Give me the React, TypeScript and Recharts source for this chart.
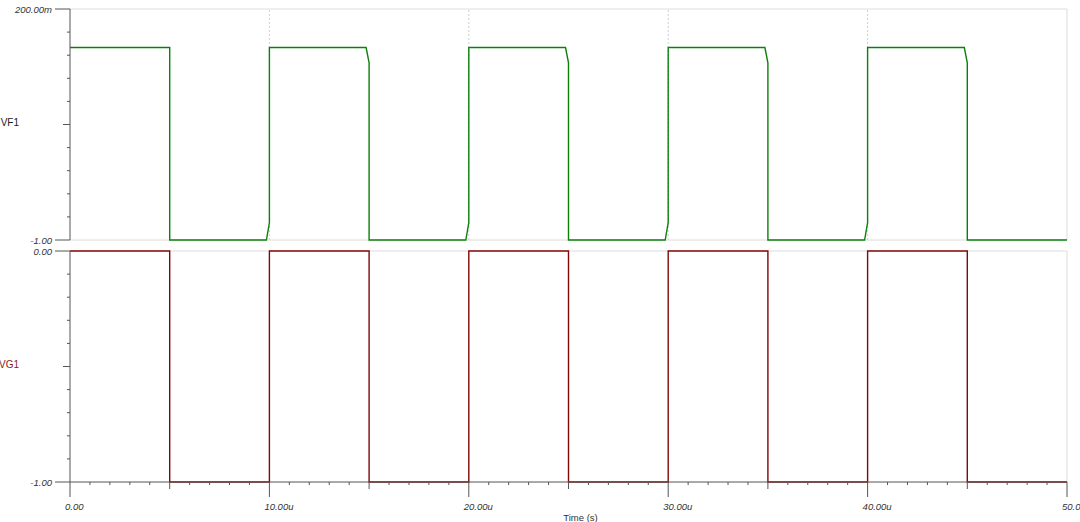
import React from "react";
import {
  LineChart,
  Line,
  XAxis,
  YAxis,
  ReferenceLine,
} from "recharts";

// VF1 (top panel): time in µs, value in V
const VF_TIME = [
  0, 5, 5, 9.85, 10, 10, 14.85, 15, 15, 19.85, 20, 20, 24.85, 25, 25, 29.85,
  30, 30, 34.85, 35, 35, 39.85, 40, 40, 44.85, 45, 45, 50,
];
const VF_VALUE = [
  0, 0, -1, -1, -0.91, 0, 0, -0.08, -1, -1, -0.91, 0, 0, -0.08, -1, -1,
  -0.91, 0, 0, -0.08, -1, -1, -0.91, 0, 0, -0.08, -1, -1,
];

// VG1 (bottom panel)
const VG_TIME = [
  0, 5, 5, 10, 10, 15, 15, 20, 20, 25, 25, 30, 30, 35, 35, 40, 40, 45, 45, 50,
];
const VG_VALUE = [
  0, 0, -1, -1, 0, 0, -1, -1, 0, 0, -1, -1, 0, 0, -1, -1, 0, 0, -1, -1,
];

const VF_TICKS = [-1, -0.88, -0.76, -0.64, -0.52, -0.4, -0.28, -0.16, -0.04, 0.08, 0.2];
const VF_TICK_LABELS = ["-1.00", "", "", "", "", "", "", "", "", "", "200.00m"];
const VG_TICKS = [-1, -0.9, -0.8, -0.7, -0.6, -0.5, -0.4, -0.3, -0.2, -0.1, 0];
const VG_TICK_LABELS = ["-1.00", "", "", "", "", "", "", "", "", "", "0.00"];

const X_MAJOR = [0, 10, 20, 30, 40, 50];
const X_LABELS = ["0.00", "10.00u", "20.00u", "30.00u", "40.00u", "50.00u"];
const X_TICKS = Array.from({ length: 51 }, (_, i) => i);
const GRID_X = [10, 20, 30, 40];

const vfData = VF_TIME.map((t, i) => ({ t, v: VF_VALUE[i] }));
const vgData = VG_TIME.map((t, i) => ({ t, v: VG_VALUE[i] }));

const FONT = "'Liberation Sans', Arial, sans-serif";
const AXIS = "#555";
const BORDER = "#dcdcdc";
const GREEN = "#0b800b";
const RED = "#820808";

function makeYTick(ticks: number[], labels: string[], name: string, nameColor: string) {
  return (props: any) => {
    const { x, y, payload } = props;
    const idx = ticks.findIndex((v) => Math.abs(v - payload.value) < 1e-6);
    const label = labels[idx] || "";
    const mid = idx === 5;
    const len = label ? 15 : mid ? 7 : 3;
    return (
      <g>
        <line x1={x - len} y1={y} x2={x} y2={y} stroke={AXIS} strokeWidth={1} />
        {label && (
          <text
            x={x - 18}
            y={y}
            textAnchor="end"
            dominantBaseline="central"
            fontSize={9.5}
            fontStyle="italic"
            fontFamily={FONT}
            fill="#333"
          >
            {label}
          </text>
        )}
        {mid && (
          <text
            x={x - 51}
            y={y - 2}
            textAnchor="end"
            dominantBaseline="central"
            fontSize={10}
            fontFamily={FONT}
            fill={nameColor}
          >
            {name}
          </text>
        )}
      </g>
    );
  };
}

function XTick(props: any) {
  const { x, y, payload } = props;
  const v = payload.value;
  const m = X_MAJOR.indexOf(v);
  const len = m >= 0 ? 15 : v % 5 === 0 ? 7 : 3;
  return (
    <g>
      <line x1={x} y1={y} x2={x} y2={y + len} stroke={AXIS} strokeWidth={1} />
      {m >= 0 && (
        <text
          x={x - 5}
          y={y + 24}
          textAnchor="start"
          dominantBaseline="central"
          fontSize={9.5}
          fontStyle="italic"
          fontFamily={FONT}
          fill="#333"
        >
          {X_LABELS[m]}
        </text>
      )}
    </g>
  );
}

const VFTick = makeYTick(VF_TICKS, VF_TICK_LABELS, "VF1", "#222");
const VGTick = makeYTick(VG_TICKS, VG_TICK_LABELS, "VG1", "#8b1a1a");

export default function App() {
  return (
    <div style={{ width: 1080, height: 522, background: "#fff", overflow: "hidden" }}>
      <style>{`body{margin:0}`}</style>
      <LineChart
        width={1080}
        height={245}
        data={vfData}
        margin={{ top: 9, right: 13, bottom: 5, left: 0 }}
        style={{ display: "block" }}
      >
        <XAxis dataKey="t" type="number" domain={[0, 50]} ticks={X_MAJOR} hide />
        <YAxis
          type="number"
          domain={[-1, 0.2]}
          ticks={VF_TICKS}
          width={70}
          tickSize={0}
          tickMargin={0}
          tickLine={false}
          axisLine={{ stroke: AXIS }}
          tick={VFTick}
          interval={0}
        />
        <ReferenceLine y={0.2} stroke={BORDER} />
        <ReferenceLine y={-1} stroke={BORDER} />
        <ReferenceLine x={50} stroke={BORDER} />
        {GRID_X.map((g) => (
          <ReferenceLine key={g} x={g} stroke="#cfcfcf" strokeDasharray="2 2" />
        ))}
        <Line
          type="linear"
          dataKey="v"
          stroke={GREEN}
          strokeWidth={1.4}
          dot={false}
          isAnimationActive={false}
        />
      </LineChart>
      <LineChart
        width={1080}
        height={277}
        data={vgData}
        margin={{ top: 6, right: 13, bottom: 0, left: 0 }}
        style={{ display: "block" }}
      >
        <XAxis
          dataKey="t"
          type="number"
          domain={[0, 50]}
          ticks={X_TICKS}
          interval={0}
          height={40}
          tickSize={0}
          tickMargin={0}
          tickLine={false}
          axisLine={{ stroke: AXIS }}
          tick={XTick}
          label={{
            value: "Time (s)",
            position: "insideBottom",
            offset: 1,
            dx: 12,
            fontSize: 9.5,
            fontFamily: FONT,
            fill: "#333",
          }}
        />
        <YAxis
          type="number"
          domain={[-1, 0]}
          ticks={VG_TICKS}
          width={70}
          tickSize={0}
          tickMargin={0}
          tickLine={false}
          axisLine={{ stroke: AXIS }}
          tick={VGTick}
          interval={0}
        />
        <ReferenceLine y={0} stroke={BORDER} />
        <ReferenceLine x={50} stroke={BORDER} />
        <Line
          type="linear"
          dataKey="v"
          stroke={RED}
          strokeWidth={1.4}
          dot={false}
          isAnimationActive={false}
        />
      </LineChart>
    </div>
  );
}
